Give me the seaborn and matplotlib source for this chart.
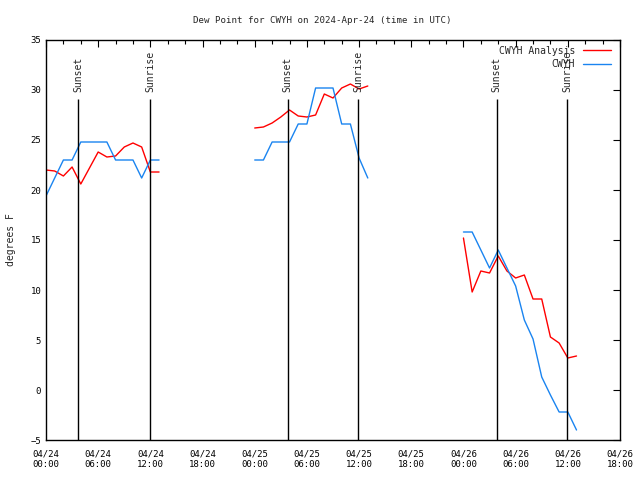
import matplotlib
matplotlib.use("Agg")
import matplotlib.pyplot as plt
from matplotlib.ticker import MultipleLocator, FixedLocator
from matplotlib.lines import Line2D
import seaborn as sns
import pandas as pd

# hours since 2024-04-24 00:00 UTC
seg1_hours = list(range(0, 14))
seg2_hours = list(range(24, 38))
seg3_hours = list(range(48, 62))

analysis_seg1 = [22.0, 21.9, 21.4, 22.3, 20.6, 22.2, 23.8, 23.3, 23.4, 24.3, 24.7, 24.3, 21.8, 21.8]
analysis_seg2 = [26.2, 26.3, 26.7, 27.3, 28.0, 27.4, 27.3, 27.5, 29.6, 29.2, 30.2, 30.6, 30.1, 30.4]
analysis_seg3 = [15.2, 9.8, 11.9, 11.7, 13.4, 11.9, 11.2, 11.5, 9.1, 9.1, 5.3, 4.7, 3.2, 3.4]

obs_seg1 = [19.4, 21.2, 23.0, 23.0, 24.8, 24.8, 24.8, 24.8, 23.0, 23.0, 23.0, 21.2, 23.0, 23.0]
obs_seg2 = [23.0, 23.0, 24.8, 24.8, 24.8, 26.6, 26.6, 30.2, 30.2, 30.2, 26.6, 26.6, 23.2, 21.2]
obs_seg3 = [15.8, 15.8, 14.0, 12.2, 14.0, 12.2, 10.4, 7.0, 5.1, 1.3, -0.5, -2.2, -2.2, -4.0]

sunset_hours = [3.7, 27.8, 51.8]
sunrise_hours = [11.95, 35.9, 59.9]

tick_hours = list(range(0, 67, 6))
tick_labels = ["04/24\n00:00", "04/24\n06:00", "04/24\n12:00", "04/24\n18:00",
               "04/25\n00:00", "04/25\n06:00", "04/25\n12:00", "04/25\n18:00",
               "04/26\n00:00", "04/26\n06:00", "04/26\n12:00", "04/26\n18:00"]

series_names = ["CWYH Analysis", "CWYH"]
colors = {"CWYH Analysis": "#ff0000", "CWYH": "#1a84f0"}

rows = []
for seg, hrs, a, o in [(1, seg1_hours, analysis_seg1, obs_seg1),
                       (2, seg2_hours, analysis_seg2, obs_seg2),
                       (3, seg3_hours, analysis_seg3, obs_seg3)]:
    for h, va, vo in zip(hrs, a, o):
        rows.append({"hour": h, "value": va, "series": "CWYH Analysis", "seg": seg})
        rows.append({"hour": h, "value": vo, "series": "CWYH", "seg": seg})
df = pd.DataFrame(rows)

sns.set_style("white")
font = "DejaVu Sans Mono"
plt.rcParams["font.family"] = [font, "DejaVu Sans"]

fig = plt.figure(figsize=(6.4, 4.8), dpi=100)
ax = fig.add_axes([46 / 640, 40 / 480, 574 / 640, 400 / 480])

sns.lineplot(data=df, x="hour", y="value", hue="series", units="seg",
             estimator=None, palette=colors, hue_order=series_names,
             linewidth=1.0, ax=ax, legend=False)

top_line = 29.1
for h in sunset_hours:
    ax.vlines(h, -5, top_line, color="black", linewidth=1.0)
    ax.text(h, 29.8, "Sunset", rotation=90, ha="center", va="bottom",
            fontsize=7, family=font)
for h in sunrise_hours:
    ax.vlines(h, -5, top_line, color="black", linewidth=1.0)
    ax.text(h, 29.8, "Sunrise", rotation=90, ha="center", va="bottom",
            fontsize=7, family=font)

ax.set_xlim(0, 66)
ax.set_ylim(-5, 35)
ax.xaxis.set_major_locator(FixedLocator(tick_hours))
ax.set_xticklabels(tick_labels)
ax.xaxis.set_minor_locator(MultipleLocator(2))
ax.yaxis.set_major_locator(MultipleLocator(5))
ax.tick_params(axis="both", which="both", direction="in", top=True, right=True,
               labelsize=6.5, colors="black")
ax.tick_params(axis="both", which="major", length=5, width=0.8)
ax.tick_params(axis="both", which="minor", length=3, width=0.8)
ax.tick_params(axis="x", pad=7)
for lab in ax.get_xticklabels() + ax.get_yticklabels():
    lab.set_family(font)

for s in ax.spines.values():
    s.set_color("black")
    s.set_linewidth(1.0)

ax.set_xlabel("")
ax.set_ylabel("degrees F", fontsize=7, family=font, labelpad=10)
ax.set_title("Dew Point for CWYH on 2024-Apr-24 (time in UTC)", fontsize=6.6,
             family=font, pad=12, x=(322 - 46) / 574)

handles = [Line2D([], [], color=colors[n], linewidth=1.0) for n in series_names]
leg = ax.legend(handles, series_names, loc="upper right", bbox_to_anchor=(0.995, 1.0),
                frameon=False, markerfirst=False, handlelength=2.9,
                handletextpad=0.8, labelspacing=0.35, borderaxespad=0.2,
                prop={"family": font, "size": 7})
for t in leg.get_texts():
    t.set_ha("right")

fig.savefig("out.png", dpi=100)
